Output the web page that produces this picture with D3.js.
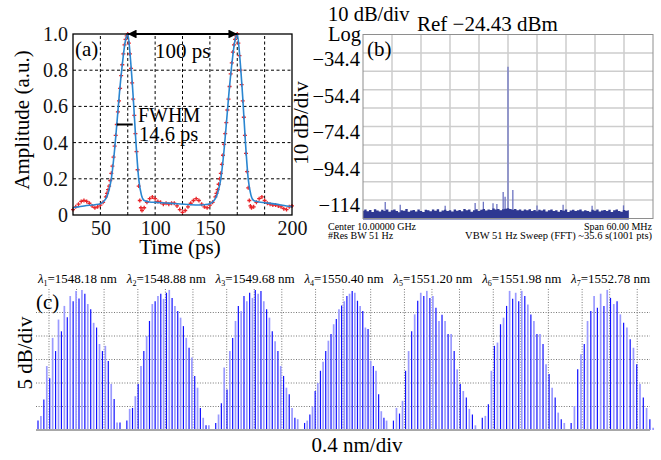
<!DOCTYPE html>
<html>
<head>
<meta charset="utf-8">
<script src="https://cdn.jsdelivr.net/npm/d3@7"></script>
<style>
body { margin: 0; background: #fff; }
svg { display: block; font-family: "Liberation Serif", "Times New Roman", serif; }
</style>
</head>
<body>
<script>
// ---------- (a) pulse train: measured points (red) and fit (blue) ----------
var measData = [
  [25,0.03],[27.5,0.045],[30,0.06],[32.5,0.075],[35,0.08],[37.5,0.075],[40,0.065],[42.5,0.05],[45,0.04],[47.5,0.045],
  [50,0.055],[52.5,0.07],[55,0.1],[56,0.12],[57,0.14],[58,0.16],[59,0.19],[60,0.23],[61,0.27],[62,0.32],
  [63,0.38],[64,0.44],[65,0.5],[66,0.57],[67,0.63],[68,0.7],[69,0.77],[70,0.83],[71,0.89],[72,0.94],
  [73,0.97],[74,0.99],[75,1.0],[76,0.95],[77,0.89],[78,0.81],[79,0.73],[80,0.64],[81,0.55],[82,0.45],
  [83,0.35],[84,0.25],[85,0.16],[86,0.08],[87,0.04],[88,0.025],[90,0.04],[92.5,0.07],[95,0.09],[97.5,0.1],
  [100,0.09],[102.5,0.075],[105,0.07],[107.5,0.06],[110,0.065],[112.5,0.06],[115,0.065],[117.5,0.065],[120,0.05],[122.5,0.03],
  [125,0.015],[127.5,0.025],[130,0.045],[132.5,0.065],[135,0.08],[137.5,0.09],[140,0.08],[142.5,0.06],[145,0.045],[147.5,0.04],
  [150,0.055],[152.5,0.07],[155,0.1],[156,0.12],[157,0.14],[158,0.17],[159,0.2],[160,0.23],[161,0.28],[162,0.33],
  [163,0.39],[164,0.45],[165,0.51],[166,0.58],[167,0.64],[168,0.71],[169,0.78],[170,0.84],[171,0.9],[172,0.94],
  [173,0.97],[174,0.99],[175,1.0],[176,0.95],[177,0.88],[178,0.8],[179,0.72],[180,0.63],[181,0.54],[182,0.44],
  [183,0.34],[184,0.24],[185,0.15],[186,0.08],[187,0.05],[188,0.04],[190,0.045],[192.5,0.07],[195,0.09],[197.5,0.1],
  [200,0.08],[202.5,0.065],[205,0.06],[207.5,0.055],[210,0.055],[212.5,0.05],[215,0.045],[217.5,0.035],[220,0.03],[222.5,0.045],
  [225,0.05]
];
var fitData = [
  [25,0.04],[30,0.045],[35,0.05],[40,0.054],[45,0.057],[50,0.062],[52.5,0.072],[55,0.09],[57.5,0.13],[60,0.2],
  [62.5,0.33],[65,0.5],[67.5,0.68],[70,0.83],[72.5,0.95],[75,1.0],[77.5,0.86],[80,0.65],[82.5,0.4],[85,0.2],
  [87.5,0.11],[90,0.08],[95,0.072],[100,0.07],[110,0.066],[120,0.062],[130,0.058],[140,0.055],[145,0.057],[150,0.062],
  [152.5,0.072],[155,0.09],[157.5,0.13],[160,0.2],[162.5,0.33],[165,0.5],[167.5,0.68],[170,0.83],[172.5,0.95],[175,1.0],
  [177.5,0.86],[180,0.65],[182.5,0.4],[185,0.2],[187.5,0.11],[190,0.08],[195,0.072],[200,0.068],[210,0.06],[220,0.05],
  [225,0.046]
];
var timeGrid = [50, 75, 100, 125, 150, 175, 200];
var timeTickPos = [50, 100, 150, 225];
var timeTickText = ["50", "100", "150", "200"];
var ampTicks = [0, 0.2, 0.4, 0.6, 0.8, 1.0];
var peakTimes = [75, 175];
var fwhmMark = [65, 79.5];

// ---------- (b) RF spectrum ----------
var refLevel = -24.43;
var spanStart = -30, spanStep = 0.5;   // MHz offset from 10 GHz
var noiseTop = [
  -120.2,-119.6,-120.5,-119.8,-120.9,-119.4,-120.1,-120.6,-119.7,-120.3,
  -119.5,-120.8,-120.0,-119.6,-120.4,-121.0,-119.9,-120.2,-119.3,-120.7,
  -120.1,-119.8,-120.6,-119.5,-120.3,-120.9,-119.7,-120.0,-120.5,-119.6,
  -120.2,-119.4,-120.8,-120.1,-119.7,-120.4,-119.9,-120.6,-119.5,-120.2,
  -119.8,-120.5,-119.3,-120.0,-119.6,-120.7,-119.9,-119.4,-120.3,-119.7,
  -119.2,-120.1,-119.5,-119.8,-119.0,-119.6,-119.3,-119.9,-119.4,-119.1,
  -118.8,
  -119.3,-119.7,-119.2,-119.9,-119.5,-120.2,-119.6,-120.0,-119.4,-120.3,
  -119.8,-120.5,-119.7,-120.1,-119.5,-120.6,-120.0,-119.6,-120.4,-119.9,
  -120.7,-119.8,-120.2,-119.5,-120.9,-120.1,-119.7,-120.4,-120.0,-119.6,
  -120.5,-119.9,-120.3,-120.8,-119.7,-120.2,-119.6,-120.6,-120.1,-119.8,
  -120.4,-119.7,-120.9,-120.0,-119.5,-120.3,-120.7,-119.8,-120.2,-119.9
];
var spikes = [
  [-25.4,-115.5],[-22.3,-117],[-13,-117.5],[-6.8,-116],[-5.1,-115.3],[-3.1,-116.2],[-2.3,-116.5],
  [-1,-110],[-0.6,-112.6],[0,-42],[1,-109],[6,-117.3],[11.4,-117],[17.4,-117.5],[23.9,-117.3]
];
var levelTicks = [-34.4, -54.4, -74.4, -94.4, -114];
var levelText = ["\u221234.4", "\u221254.4", "\u221274.4", "\u221294.4", "\u2212114"];

// ---------- (c) optical spectra of 7 channels ----------
var channelWl = ["1548.18", "1548.88", "1549.68", "1550.40", "1551.20", "1551.98", "1552.78"];
var comb1 = [2,3,6.5,13.6,11,19.6,16.8,23.5,21,26.4,24,28.5,27.4,29.6,28,29.8,29,26.8,25.7,22.8,21.8,18.3,16.8,17.9,14.7,9.8,6.6,1.6,1.6];
var comb2 = [2,4.5,4.7,7.2,9.8,13.6,16.8,20,23.2,26.8,27.4,28.5,29,27.9,29.2,29.8,28.1,26.4,25.3,23.9,22.1,19.6,17.5,15.4,11.5,9,4.7,2.6,1,1];
var comb3 = [1.5,3.3,5.7,13.3,8.6,16.8,19.6,23.2,26.4,25.3,28.5,27.4,29.2,28.1,29.8,29,29.6,27.4,25.7,23.9,21,18.9,16.8,13.6,11.5,9,7.6,4.7,2.6,2.3];
var comb4 = [1.5,2,3.3,5,8.3,10,12.6,14.5,16.8,19,20.4,22.5,23.6,25.7,26.5,27.4,28.5,29,29.6,29.2,27.5,26.4,25.3,21.8,21.5,14.7,13.6,12.6,7.6,4,2.6,2];
var comb5 = [2,4.7,3.5,6.2,12.6,16.8,21,24.6,27.5,29.2,28.5,29.6,28.1,28.5,26,23.2,24.5,23.2,20.4,20.4,16.8,12.9,9.8,8.3,6.9,4.5,3.3,1];
var comb6 = [2.6,3,5.5,12.6,17.9,18.6,22.5,23.9,26.4,29.6,27.9,29.2,27.4,29.6,28.5,26.7,24.6,23.2,20.4,20.4,18.3,14,11.9,9,6.9,3.7,2.3,1.5];
var comb7 = [1.5,5.1,12.9,16.1,18.3,23.2,25.3,28.5,26,29,26.4,29.8,28.1,26.8,27.4,24.6,22.8,21.8,19.3,17.5,14,9.8,6.9,4.7,2.3,0.5];
var combs = [comb1, comb2, comb3, comb4, comb5, comb6, comb7];
var dbGrid = [5, 10, 15, 20, 25];
var wlGrid = [0.18, 0.49, 0.8];

var svg = d3.select('body')
.append('svg')
.attr('width', 661)
.attr('height', 460);

// ================= panel (a) =================
var xA = d3.scaleLinear().domain([25, 225]).range([73, 292]);
var yA = d3.scaleLinear().domain([0, 1]).range([215, 34]);
var pa = svg.append('g');

pa.selectAll('.vgrid')
.data(timeGrid)
.enter().append('line')
.attr('x1', function(d) { return xA(d); })
.attr('x2', function(d) { return xA(d); })
.attr('y1', yA(0)).attr('y2', yA(1))
.attr('stroke', '#000').attr('stroke-width', 1).attr('stroke-dasharray', '3,2.5');

pa.selectAll('.hgrid')
.data(ampTicks.slice(1, 5))
.enter().append('line')
.attr('x1', xA(25)).attr('x2', xA(225))
.attr('y1', function(d) { return yA(d); })
.attr('y2', function(d) { return yA(d); })
.attr('stroke', '#000').attr('stroke-width', 1).attr('stroke-dasharray', '3,2.5');

pa.append('g')
.attr('transform', 'translate(0,' + yA(0) + ')')
.call(d3.axisBottom(xA).tickValues(timeTickPos).tickSize(0).tickPadding(6)
  .tickFormat(function(d, i) { return timeTickText[i]; }))
.call(function(g) { g.select('.domain').remove(); })
.selectAll('text').attr('font-size', 20).attr('font-family', 'Liberation Serif').attr('fill', '#111');

pa.append('g')
.attr('transform', 'translate(' + xA(25) + ',0)')
.call(d3.axisLeft(yA).tickValues(ampTicks).tickSize(0).tickPadding(5)
  .tickFormat(function(d) { return d === 0 ? '0' : d3.format('.1f')(d); }))
.call(function(g) { g.select('.domain').remove(); })
.selectAll('text').attr('font-size', 20).attr('font-family', 'Liberation Serif').attr('fill', '#111');

// measured points
pa.append('g').selectAll('path')
.data(measData)
.enter().append('path')
.attr('transform', function(d) { return 'translate(' + xA(d[0]) + ',' + yA(d[1]) + ')'; })
.attr('d', 'M-2,0H2M0,-2V2')
.attr('stroke', '#e8262a').attr('stroke-width', 1.3);

// fit curve
pa.append('path')
.datum(fitData)
.attr('fill', 'none')
.attr('stroke', '#2a86d1')
.attr('stroke-width', 1.6)
.attr('d', d3.line().x(function(d) { return xA(d[0]); }).y(function(d) { return yA(d[1]); }).curve(d3.curveMonotoneX));

pa.append('rect')
.attr('x', xA(25)).attr('y', yA(1))
.attr('width', xA(225) - xA(25)).attr('height', yA(0) - yA(1))
.attr('fill', 'none').attr('stroke', '#000').attr('stroke-width', 1.3);

// period arrow
var defs = svg.append('defs');
defs.append('marker')
.attr('id', 'head')
.attr('viewBox', '0 0 10 10')
.attr('refX', 10).attr('refY', 5)
.attr('markerWidth', 5).attr('markerHeight', 4)
.attr('markerUnits', 'strokeWidth')
.attr('orient', 'auto-start-reverse')
.append('path').attr('d', 'M0,0L10,5L0,10z').attr('fill', '#000');

pa.append('line')
.attr('x1', xA(peakTimes[0])).attr('x2', xA(peakTimes[1]))
.attr('y1', yA(1)).attr('y2', yA(1))
.attr('stroke', '#000').attr('stroke-width', 2.2)
.attr('marker-start', 'url(#head)').attr('marker-end', 'url(#head)');

pa.append('line')
.attr('x1', xA(fwhmMark[0])).attr('x2', xA(fwhmMark[1]))
.attr('y1', yA(0.5)).attr('y2', yA(0.5))
.attr('stroke', '#000').attr('stroke-width', 2);

pa.append('text').attr('x', 75).attr('y', 56).attr('font-size', 21).text('(a)');
pa.append('text').attr('x', 155).attr('y', 58).attr('font-size', 21).text('100 ps');
pa.append('text').attr('x', 138).attr('y', 122).attr('font-size', 20).text('FWHM');
pa.append('text').attr('x', 139).attr('y', 141).attr('font-size', 20.5).text('14.6 ps');

pa.append('text')
.attr('transform', 'translate(29,120) rotate(-90)')
.style('text-anchor', 'middle')
.attr('font-size', 21)
.text('Amplitude (a.u.)');

pa.append('text')
.attr('x', 180).attr('y', 254)
.style('text-anchor', 'middle')
.attr('font-size', 21)
.text('Time (ps)');

// ================= panel (b) =================
var xB = d3.scaleLinear().domain([-30, 30]).range([363, 653]);
var yB = d3.scaleLinear().domain([refLevel, refLevel - 100]).range([34.5, 218.5]);
var pb = svg.append('g');

pb.append('rect')
.attr('x', xB(-30)).attr('y', yB(refLevel))
.attr('width', xB(30) - xB(-30)).attr('height', yB(refLevel - 100) - yB(refLevel))
.attr('fill', '#fff');

pb.selectAll('.bv')
.data(d3.range(-24, 30, 6))
.enter().append('line')
.attr('x1', function(d) { return xB(d); }).attr('x2', function(d) { return xB(d); })
.attr('y1', yB(refLevel)).attr('y2', yB(refLevel - 100))
.attr('stroke', '#cdcdcd').attr('stroke-width', 1.5);

pb.selectAll('.bh')
.data(d3.range(1, 10))
.enter().append('line')
.attr('x1', xB(-30)).attr('x2', xB(30))
.attr('y1', function(d) { return yB(refLevel - 10 * d); })
.attr('y2', function(d) { return yB(refLevel - 10 * d); })
.attr('stroke', '#cdcdcd').attr('stroke-width', 1.5);

pb.selectAll('.spk')
.data(spikes)
.enter().append('line')
.attr('x1', function(d) { return xB(d[0]); }).attr('x2', function(d) { return xB(d[0]); })
.attr('y1', yB(refLevel - 100)).attr('y2', function(d) { return yB(d[1]); })
.attr('stroke', '#6c73c2').attr('stroke-width', 1.3);

pb.append('path')
.datum(noiseTop)
.attr('fill', '#2e3892')
.attr('d', d3.area()
  .x(function(d, i) { return xB(spanStart + i * spanStep); })
  .y0(yB(refLevel - 100) + 1)
  .y1(function(d) { return yB(d); })
  .curve(d3.curveStep));

pb.append('rect')
.attr('x', xB(-30)).attr('y', yB(refLevel))
.attr('width', xB(30) - xB(-30)).attr('height', yB(refLevel - 100) - yB(refLevel))
.attr('fill', 'none').attr('stroke', '#8e8e8e').attr('stroke-width', 1);

pb.selectAll('.lvl')
.data(levelTicks)
.enter().append('text')
.attr('x', 360)
.attr('y', function(d) { return yB(d) + 13; })
.style('text-anchor', 'end')
.attr('font-size', 20.5)
.text(function(d, i) { return levelText[i]; });

pb.append('text').attr('x', 328).attr('y', 21).attr('font-size', 20.5).text('10 dB/div');
pb.append('text').attr('x', 328).attr('y', 41).attr('font-size', 20.5).text('Log');
pb.append('text').attr('x', 417).attr('y', 31).attr('font-size', 21).text('Ref \u221224.43 dBm');
pb.append('text').attr('x', 367).attr('y', 56).attr('font-size', 21).text('(b)');

pb.append('text')
.attr('transform', 'translate(308,123) rotate(-90)')
.style('text-anchor', 'middle')
.attr('font-size', 21)
.text('10 dB/div');

pb.append('text').attr('x', 328).attr('y', 230).attr('font-size', 10).text('Center 10.00000 GHz');
pb.append('text').attr('x', 328).attr('y', 239).attr('font-size', 10).text('#Res BW 51 Hz');
pb.append('text').attr('x', 652).attr('y', 230).attr('font-size', 10).style('text-anchor', 'end').text('Span 60.00 MHz');
pb.append('text').attr('x', 652).attr('y', 239).attr('font-size', 10.5).style('text-anchor', 'end')
.text('VBW 51 Hz  Sweep (FFT) ~35.6 s(1001 pts)');

// ================= panel (c) =================
var xC = d3.scaleBand().domain(d3.range(7)).range([33, 655]).padding(0);
var yC = d3.scaleLinear().domain([0, 30]).range([430, 289]);
var pc = svg.append('g');

pc.selectAll('.ch')
.data(dbGrid)
.enter().append('line')
.attr('x1', 36).attr('x2', 650)
.attr('y1', function(d) { return yC(d); }).attr('y2', function(d) { return yC(d); })
.attr('stroke', '#666').attr('stroke-width', 0.9).attr('stroke-dasharray', '1,1.6');

var chan = pc.selectAll('.chan')
.data(combs)
.enter().append('g')
.attr('transform', function(d, k) { return 'translate(' + xC(k) + ',0)'; });

chan.selectAll('.cv')
.data(wlGrid)
.enter().append('line')
.attr('x1', function(d) { return d * xC.bandwidth(); })
.attr('x2', function(d) { return d * xC.bandwidth(); })
.attr('y1', yC(30)).attr('y2', yC(0))
.attr('stroke', '#666').attr('stroke-width', 0.9).attr('stroke-dasharray', '1,1.6');

chan.each(function(vals) {
  var xi = d3.scaleLinear().domain([0, vals.length - 1]).range([5, 87]);
  d3.select(this).selectAll('.ln')
  .data(vals)
  .enter().append('line')
  .attr('x1', function(d, i) { return xi(i); })
  .attr('x2', function(d, i) { return xi(i); })
  .attr('y1', yC(0))
  .attr('y2', function(d) { return yC(d); })
  .attr('stroke', function(d, i) { return i % 2 === 0 ? '#1010ff' : '#9a9aff'; })
  .attr('stroke-width', function(d, i) { return i % 2 === 0 ? 1.2 : 1.7; });
});

pc.append('line')
.attr('x1', 36).attr('x2', 650)
.attr('y1', yC(0)).attr('y2', yC(0))
.attr('stroke', '#a8a8a8').attr('stroke-width', 2);

var lab = pc.selectAll('.wl')
.data(channelWl)
.enter().append('text')
.attr('x', function(d, k) { return xC(k) + xC.bandwidth() / 2; })
.attr('y', 283)
.style('text-anchor', 'middle')
.attr('font-size', 13);
lab.append('tspan').attr('font-style', 'italic').text('\u03bb');
lab.append('tspan').attr('font-size', 8).attr('dy', 3).text(function(d, k) { return k + 1; });
lab.append('tspan').attr('dy', -3).text(function(d) { return '=' + d + ' nm'; });

pc.append('text').attr('x', 36).attr('y', 309).attr('font-size', 21).text('(c)');

pc.append('text')
.attr('transform', 'translate(32,353) rotate(-90)')
.style('text-anchor', 'middle')
.attr('font-size', 21)
.text('5 dB/div');

pc.append('text')
.attr('x', 357).attr('y', 452)
.style('text-anchor', 'middle')
.attr('font-size', 21)
.text('0.4 nm/div');
</script>
</body>
</html>
